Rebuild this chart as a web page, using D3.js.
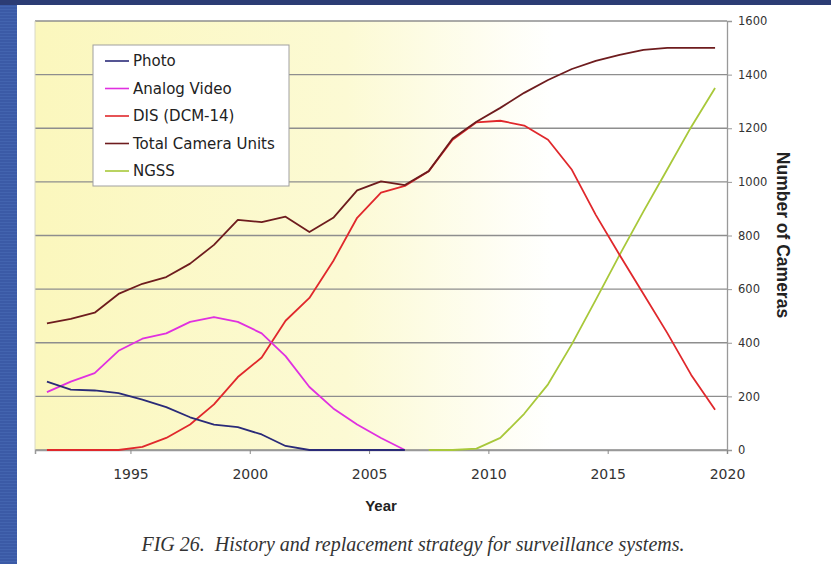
<!DOCTYPE html>
<html>
<head>
<meta charset="utf-8">
<script src="https://cdn.jsdelivr.net/npm/d3@7"></script>
<style>
  body { margin: 0; background: #ffffff; }
  svg { display: block; }
</style>
</head>
<body>
<div id="chart"></div>
<script>
// mid-year positions of the yearly values
let years = [1991.5, 1992.5, 1993.5, 1994.5, 1995.5, 1996.5, 1997.5, 1998.5, 1999.5, 2000.5,
             2001.5, 2002.5, 2003.5, 2004.5, 2005.5, 2006.5, 2007.5, 2008.5, 2009.5, 2010.5,
             2011.5, 2012.5, 2013.5, 2014.5, 2015.5, 2016.5, 2017.5, 2018.5, 2019.5];

let photo = [255, 225, 222, 212, 188, 160, 122, 95, 85, 58, 15, 0, 0, 0, 0, 0];
let analogVideo = [216, 255, 287, 370, 415, 435, 478, 496, 478, 435, 350, 235, 155, 95, 45, 0];
let dis = [0, 0, 0, 0, 12, 45, 95, 170, 272, 345, 482, 567, 705, 866, 960, 985,
           1040, 1157, 1222, 1228, 1210, 1157, 1045, 877, 727, 582, 436, 280, 150];
let totalUnits = [472, 489, 512, 582, 620, 645, 695, 765, 858, 850, 870, 813, 866, 968, 1002, 988,
                  1040, 1162, 1224, 1276, 1332, 1380, 1421, 1451, 1474, 1492, 1500, 1500, 1500];
let ngss = [0, 0, 5, 45, 135, 245, 395, 560, 728, 890, 1047, 1205, 1350];
let ngssStart = 16;

let seriesNames = ["Photo", "Analog Video", "DIS (DCM-14)", "Total Camera Units", "NGSS"];
let seriesColors = ["#2a2a78", "#e030e0", "#e0282c", "#6e1c1e", "#a8c83a"];

let yTicks = [0, 200, 400, 600, 800, 1000, 1200, 1400, 1600];
let xTicks = [1995, 2000, 2005, 2010, 2015, 2020];

let W = 831, H = 564;
let svg = d3.select("#chart").append("svg")
    .attr("width", W)
    .attr("height", H);

// slide frame
svg.append("rect").attr("x", 0).attr("y", 0).attr("width", 17).attr("height", H).attr("fill", "#3b5aa6");
for (let yy = 0; yy < H; yy += 3) {
    svg.append("rect").attr("x", 0).attr("y", yy).attr("width", 17).attr("height", 1).attr("fill", "#4a6ab6").attr("opacity", 0.6);
}
svg.append("rect").attr("x", 0).attr("y", 0).attr("width", W).attr("height", 5).attr("fill", "#2c3c74");

let plotLeft = 35, plotRight = 727, plotTop = 21, plotBottom = 450;

let x = d3.scaleLinear().domain([1991, 2020]).range([plotLeft, plotRight]);
let y = d3.scaleLinear().domain([0, 1600]).range([plotBottom, plotTop]);

// plot background
let defs = svg.append("defs");
let grad = defs.append("linearGradient").attr("id", "bg").attr("x1", "0%").attr("x2", "100%");
grad.append("stop").attr("offset", "0%").attr("stop-color", "#fbf7bd");
grad.append("stop").attr("offset", "45%").attr("stop-color", "#fcfad4");
grad.append("stop").attr("offset", "75%").attr("stop-color", "#ffffff");
grad.append("stop").attr("offset", "100%").attr("stop-color", "#ffffff");

svg.append("rect")
    .attr("x", plotLeft).attr("y", plotTop)
    .attr("width", plotRight - plotLeft).attr("height", plotBottom - plotTop)
    .attr("fill", "url(#bg)");

// gridlines
svg.append("g").selectAll("line")
    .data(yTicks)
    .enter()
    .append("line")
    .attr("x1", plotLeft).attr("x2", plotRight)
    .attr("y1", d => y(d)).attr("y2", d => y(d))
    .attr("stroke", "#8e8e8e")
    .attr("stroke-width", 1.3);

svg.append("line").attr("x1", plotLeft).attr("x2", plotLeft).attr("y1", plotTop).attr("y2", plotBottom)
    .attr("stroke", "#d8d8c8").attr("stroke-width", 1);

// right axis
let yAxis = svg.append("g")
    .attr("transform", "translate(" + plotRight + ",0)")
    .call(d3.axisRight(y).tickValues(yTicks).tickFormat(d3.format("d")).tickSize(5).tickPadding(6));
yAxis.select(".domain").attr("stroke", "#999").attr("stroke-width", 1.3);
yAxis.selectAll(".tick line").attr("stroke", "#999");
yAxis.selectAll("text").style("font-family", "DejaVu Sans, Arial").style("font-size", "11.5px").attr("fill", "#333");

// bottom axis
let xAxis = svg.append("g")
    .attr("transform", "translate(0," + plotBottom + ")")
    .call(d3.axisBottom(x).tickValues(xTicks).tickFormat(d3.format("d")).tickSize(4).tickPadding(15));
xAxis.select(".domain").attr("stroke", "#999").attr("stroke-width", 1.5);
xAxis.selectAll(".tick line").attr("stroke", "#888");
xAxis.selectAll("text").style("font-family", "DejaVu Sans, Arial").style("font-size", "14px").attr("fill", "#333");

// series
let line = d3.line()
    .x(d => x(d[0]))
    .y(d => y(d[1]));

let allSeries = [
    photo.map((v, i) => [years[i], v]),
    analogVideo.map((v, i) => [years[i], v]),
    dis.map((v, i) => [years[i], v]),
    totalUnits.map((v, i) => [years[i], v]),
    ngss.map((v, i) => [years[i + ngssStart], v])
];
let drawOrder = [4, 2, 1, 0, 3];
drawOrder.forEach(function (k) {
    svg.append("path")
        .datum(allSeries[k])
        .attr("fill", "none")
        .attr("stroke", seriesColors[k])
        .attr("stroke-width", 1.8)
        .attr("stroke-linejoin", "round")
        .attr("d", line);
});

// legend
svg.append("rect")
    .attr("x", 93).attr("y", 45)
    .attr("width", 196).attr("height", 141)
    .attr("fill", "#ffffff")
    .attr("stroke", "#a0a0a0");

seriesNames.forEach(function (name, i) {
    let ly = 61 + i * 27.5;
    svg.append("line")
        .attr("x1", 105).attr("x2", 129)
        .attr("y1", ly).attr("y2", ly)
        .attr("stroke", seriesColors[i]).attr("stroke-width", 1.6);
    svg.append("text")
        .attr("x", 133).attr("y", ly)
        .attr("dominant-baseline", "central")
        .style("font-family", "DejaVu Sans, Arial")
        .style("font-size", "15px")
        .attr("fill", "#222")
        .text(name);
});

// axis titles
svg.append("text")
    .attr("x", 381).attr("y", 511)
    .attr("text-anchor", "middle")
    .style("font-family", "Liberation Sans, Arial")
    .style("font-weight", "bold")
    .style("font-size", "15px")
    .attr("fill", "#222")
    .text("Year");

svg.append("text")
    .attr("transform", "translate(777,235)rotate(90)")
    .attr("text-anchor", "middle")
    .style("font-family", "Liberation Sans, Arial")
    .style("font-weight", "bold")
    .style("font-size", "17.5px")
    .attr("fill", "#222")
    .text("Number of Cameras");

// caption
svg.append("text")
    .attr("x", 413).attr("y", 551)
    .attr("text-anchor", "middle")
    .style("font-family", "Liberation Serif, Times New Roman")
    .style("font-style", "italic")
    .style("font-size", "20px")
    .attr("fill", "#333")
    .attr("xml:space", "preserve")
    .text("FIG 26.  History and replacement strategy for surveillance systems.");
</script>
</body>
</html>
